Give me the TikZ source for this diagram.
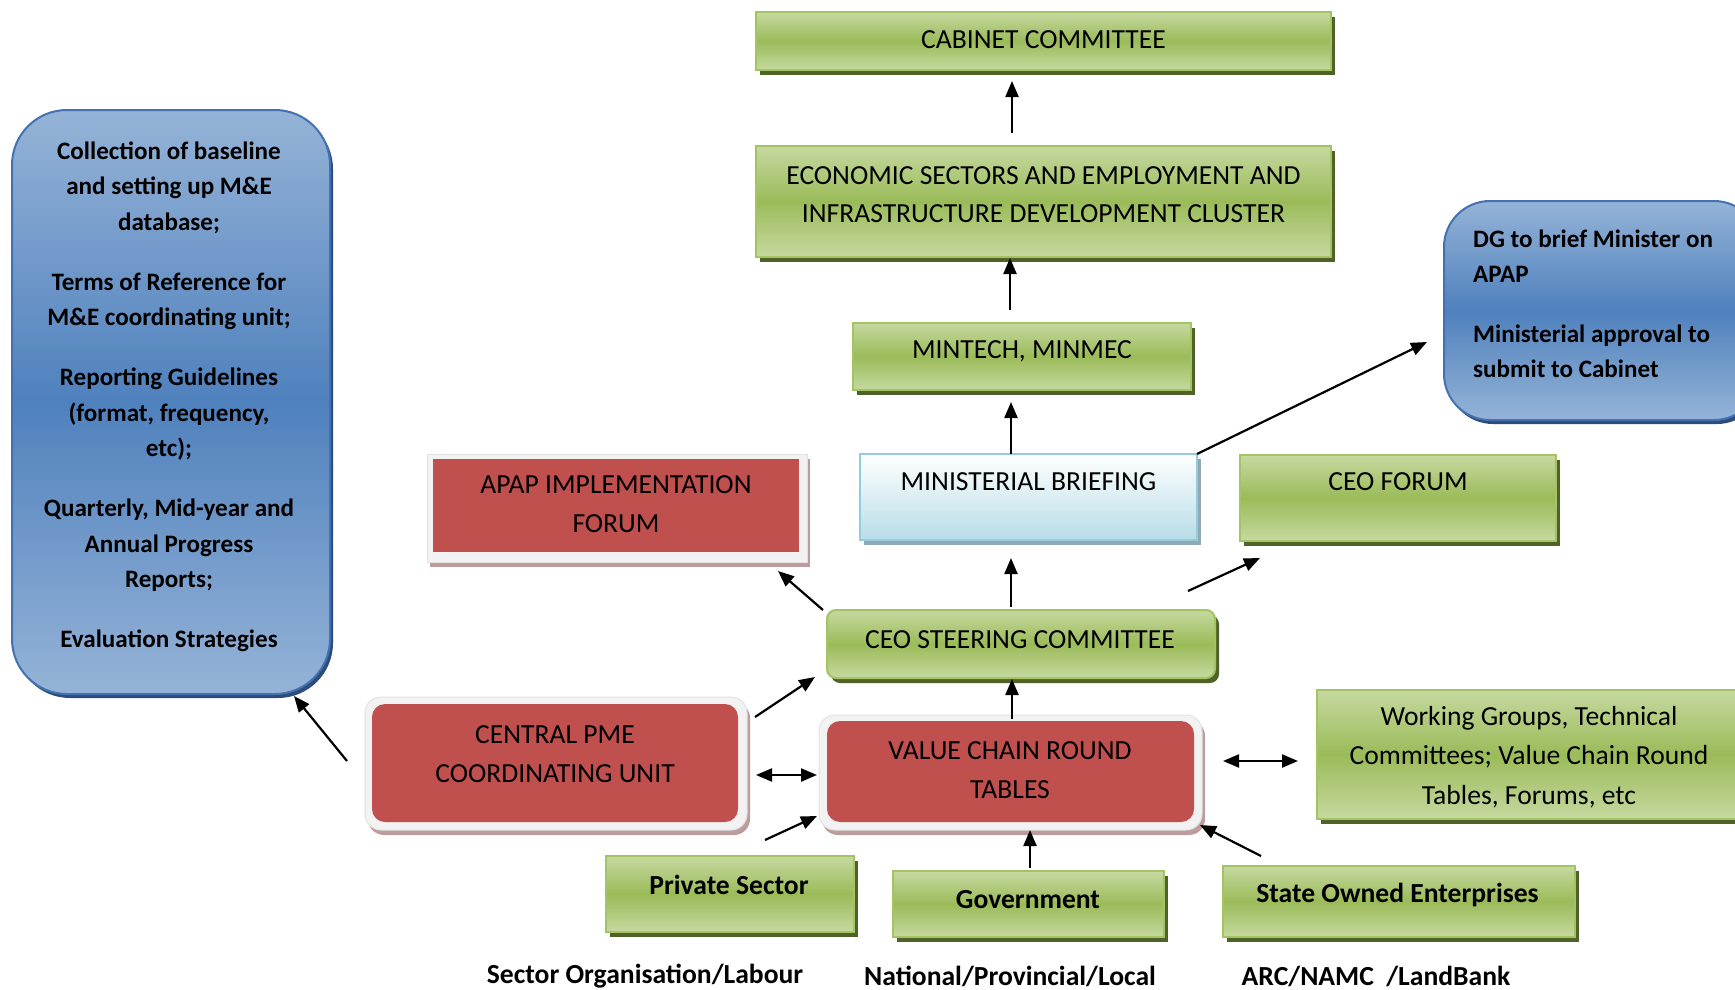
\documentclass[tikz,border=0pt]{standalone}
\usepackage{fontspec}
\setmainfont{Carlito}
\usetikzlibrary{arrows.meta,shadows}
\definecolor{gL}{HTML}{C6D9A0}
\definecolor{gM}{HTML}{9BBB59}
\definecolor{gB}{HTML}{A3C364}
\definecolor{gS}{HTML}{4F6228}
\definecolor{bL}{HTML}{95B3D7}
\definecolor{bM}{HTML}{4F81BD}
\definecolor{bB}{HTML}{4472B0}
\definecolor{bS}{HTML}{2C4C7C}
\definecolor{rF}{HTML}{C0504D}
\definecolor{rS}{HTML}{BC9C9C}
\definecolor{fW}{HTML}{F2F2F2}
\definecolor{fB}{HTML}{E2E2E2}
\definecolor{mL}{HTML}{B7DDE8}
\definecolor{mB}{HTML}{93CDDD}
\definecolor{mS}{HTML}{8FAAB4}
\begin{document}
\begin{tikzpicture}[x=1pt,y=-1pt,
  greenbox/.style={draw=gB, line width=2pt, top color=gL, bottom color=gL, middle color=gM,
    drop shadow={shadow xshift=4pt, shadow yshift=-5pt, fill=gS, opacity=1}, inner sep=0pt},
  bluebox/.style={draw=bB, line width=2pt, top color=bL, bottom color=bL, middle color=bM,
    drop shadow={shadow xshift=3pt, shadow yshift=-4pt, fill=bS, opacity=1}, inner sep=0pt},
  minbox/.style={draw=mB, line width=2pt, top color=white, bottom color=mL,
    drop shadow={shadow xshift=4pt, shadow yshift=-5pt, fill=mS, opacity=1}, inner sep=0pt},
  frame/.style={draw=fB, line width=1pt, fill=fW,
    drop shadow={shadow xshift=3pt, shadow yshift=-5pt, fill=rS, opacity=1}, inner sep=0pt},
  redbox/.style={fill=rF, inner sep=0pt},
  txt/.style={font=\fontsize{27.6}{38.5}\selectfont, align=center, inner sep=0pt},
  btxt/.style={font=\fontsize{25.1}{35.5}\selectfont\bfseries, align=center, inner sep=0pt},
  bigbtxt/.style={font=\fontsize{27.6}{35.5}\selectfont\bfseries, align=center, inner sep=0pt},
  arr/.style={line width=2.2pt, -{Triangle[length=16pt,width=13pt]}},
  darr/.style={line width=2.2pt, {Triangle[length=16pt,width=13pt]}-{Triangle[length=16pt,width=13pt]}}
]
\clip (0,0) rectangle (1735,990);
\fill[white] (0,0) rectangle (1735,990);

% boxes
\node[greenbox, minimum width=575pt, minimum height=58pt] (cab) at (1043.5,41) {};
\node[txt] (cabT) at (1043.5,40) {CABINET COMMITTEE};

\node[greenbox, minimum width=575pt, minimum height=111pt] (eco) at (1043.5,201.5) {};
\node[txt] (ecoT) at (1043.5,194.5) {ECONOMIC SECTORS AND EMPLOYMENT AND\\INFRASTRUCTURE DEVELOPMENT CLUSTER};

\node[greenbox, minimum width=338pt, minimum height=67pt] (mint) at (1022,356.5) {};
\node[txt] (mintT) at (1022,351) {MINTECH, MINMEC};

\node[minbox, minimum width=337pt, minimum height=86pt] (mb) at (1028.5,497) {};
\node[txt] (mbT) at (1028.5,482) {MINISTERIAL BRIEFING};

\node[frame, minimum width=380pt, minimum height=108pt] (apapF) at (617,508) {};
\node[redbox, minimum width=366pt, minimum height=93pt] (apap) at (616,505.5) {};
\node[txt] (apapT) at (616,504) {APAP IMPLEMENTATION\\FORUM};

\node[greenbox, minimum width=316pt, minimum height=86pt] (ceof) at (1398,498) {};
\node[txt] (ceofT) at (1398,482) {CEO FORUM};

\node[bluebox, rounded corners=46pt, minimum width=316pt, minimum height=219pt] (dg) at (1602,310.5) {};
\node[btxt, align=left, anchor=west, font=\fontsize{25.1}{34.5}\selectfont\bfseries] (dgT) at (1473,304)
  {DG to brief Minister on\\APAP\\[26pt]Ministerial approval to\\submit to Cabinet};

\node[bluebox, rounded corners=55pt, minimum width=318pt, minimum height=584pt] (me) at (171,402) {};
\node[btxt] (meT) at (169,397) {Collection of baseline\\and setting up M\&E\\database;\\[24.5pt]
  Terms of Reference for\\M\&E coordinating unit;\\[24.5pt]
  Reporting Guidelines\\(format, frequency,\\etc);\\[24.5pt]
  Quarterly, Mid-year and\\Annual Progress\\Reports;\\[24.5pt]
  Evaluation Strategies};

\node[greenbox, rounded corners=9pt, minimum width=388pt, minimum height=68pt] (ceos) at (1021,644) {};
\node[txt] (ceosT) at (1020,640) {CEO STEERING COMMITTEE};

\node[frame, rounded corners=16pt, minimum width=382pt, minimum height=133pt] (pmeF) at (556,763.5) {};
\node[redbox, rounded corners=13pt, minimum width=366pt, minimum height=118pt] (pme) at (555,763) {};
\node[txt] (pmeT) at (555,754) {CENTRAL PME\\COORDINATING UNIT};

\node[frame, rounded corners=16pt, minimum width=383pt, minimum height=115pt] (vcF) at (1010.5,772.5) {};
\node[redbox, rounded corners=13pt, minimum width=367pt, minimum height=101pt] (vc) at (1010.5,771.5) {};
\node[txt] (vcT) at (1010,770) {VALUE CHAIN ROUND\\TABLES};

\node[greenbox, minimum width=443pt, minimum height=129pt] (wg) at (1538.5,754.5) {};
\node[txt, font=\fontsize{27.6}{39.5}\selectfont] (wgT) at (1529,757) {Working Groups, Technical\\Committees; Value Chain Round\\Tables, Forums, etc};

\node[greenbox, minimum width=248pt, minimum height=76pt] (ps) at (730,894) {};
\node[bigbtxt] (psT) at (729,885) {Private Sector};

\node[greenbox, minimum width=271pt, minimum height=66pt] (gov) at (1028.5,904) {};
\node[bigbtxt] (govT) at (1028,900) {Government};

\node[greenbox, minimum width=352pt, minimum height=71pt] (soe) at (1399,901.5) {};
\node[bigbtxt] (soeT) at (1397.5,895) {State Owned Enterprises};

\node[bigbtxt] (l1) at (645,976) {Sector Organisation/Labour};
\node[bigbtxt] (l2) at (1010,976) {National/Provincial/Local};
\node[bigbtxt] (l3) at (1376,976) {ARC/NAMC\ \ /LandBank};

% connector end points
\coordinate (p1a) at (1012,133); \coordinate (p1b) at (1012,81);
\coordinate (p2a) at (1010,310); \coordinate (p2b) at (1010,258);
\coordinate (p3a) at (1011,454); \coordinate (p3b) at (1011,402);
\coordinate (p4a) at (1197,454); \coordinate (p4b) at (1427,342);
\coordinate (p5a) at (1011,607); \coordinate (p5b) at (1011,558);
\coordinate (p6a) at (823,610);  \coordinate (p6b) at (778,571);
\coordinate (p7a) at (1188,591); \coordinate (p7b) at (1260,558);
\coordinate (p8a) at (347,761);  \coordinate (p8b) at (294,696);
\coordinate (p9a) at (755,717);  \coordinate (p9b) at (815,677);
\coordinate (p10a) at (756,775); \coordinate (p10b) at (817,775);
\coordinate (p11a) at (1012,719);\coordinate (p11b) at (1012,679);
\coordinate (p12a) at (1223,761);\coordinate (p12b) at (1298,761);
\coordinate (p13a) at (765,840); \coordinate (p13b) at (817,816);
\coordinate (p14a) at (1030,868);\coordinate (p14b) at (1030,830);
\coordinate (p15a) at (1261,856);\coordinate (p15b) at (1200,825);

\draw[arr] (p1a) -- (p1b);
\draw[arr] (p2a) -- (p2b);
\draw[arr] (p3a) -- (p3b);
\draw[arr] (p4a) -- (p4b);
\draw[arr] (p5a) -- (p5b);
\draw[arr] (p6a) -- (p6b);
\draw[arr] (p7a) -- (p7b);
\draw[arr] (p8a) -- (p8b);
\draw[arr] (p9a) -- (p9b);
\draw[darr] (p10a) -- (p10b);
\draw[arr] (p11a) -- (p11b);
\draw[darr] (p12a) -- (p12b);
\draw[arr] (p13a) -- (p13b);
\draw[arr] (p14a) -- (p14b);
\draw[arr] (p15a) -- (p15b);
\end{tikzpicture}
\end{document}
